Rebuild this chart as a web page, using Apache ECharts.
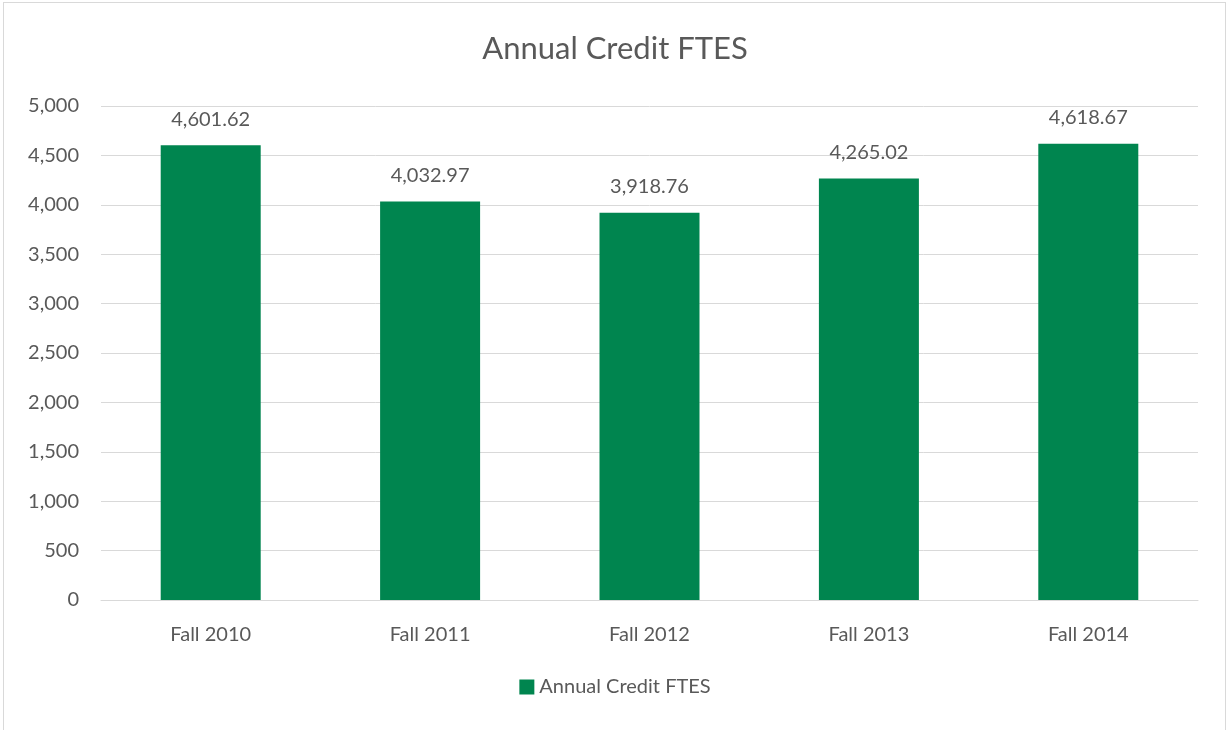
<!DOCTYPE html>
<html>
<head>
<meta charset="utf-8">
<script src="https://cdn.jsdelivr.net/npm/echarts@6/dist/echarts.min.js"></script>
<style>
  html, body { margin: 0; padding: 0; background: #fff; }
  #frame { position: absolute; left: 3px; top: 2px; width: 1223px; height: 730px; border: 1px solid #d9d9d9; border-bottom: none; box-sizing: border-box; }
  #chart { position: absolute; left: 0; top: 0; width: 1230px; height: 730px; }
</style>
</head>
<body>
<div id="chart"></div>
<div id="frame"></div>
<script>
// data
var categories = ['Fall 2010', 'Fall 2011', 'Fall 2012', 'Fall 2013', 'Fall 2014'];
var ftesValues = [4601.62, 4032.97, 3918.76, 4265.02, 4618.67];
var seriesName = 'Annual Credit FTES';

var textColor = '#595959';
var fontFam = 'Lato, "Open Sans", sans-serif';

var fmt = function (v, dec) {
  return v.toLocaleString('en-US', { minimumFractionDigits: dec, maximumFractionDigits: dec });
};

var chart = echarts.init(document.getElementById('chart'));
chart.setOption({
  animation: false,
  title: {
    text: 'Annual Credit FTES',
    left: 'center',
    top: 28,
    textStyle: { color: textColor, fontSize: 31, fontWeight: 'normal', fontFamily: fontFam }
  },
  legend: {
    bottom: 28,
    left: 'center',
    itemWidth: 15,
    itemHeight: 15,
    itemGap: 4,
    icon: 'rect',
    textStyle: { color: textColor, fontSize: 20, fontFamily: fontFam },
    data: [seriesName]
  },
  grid: { left: 101, right: 32, top: 106, bottom: 130 },
  xAxis: {
    type: 'category',
    data: categories,
    axisTick: { show: false },
    axisLine: { lineStyle: { color: '#d9d9d9' } },
    axisLabel: { color: textColor, fontSize: 20, fontFamily: fontFam, margin: 25 }
  },
  yAxis: {
    type: 'value',
    min: 0,
    max: 5000,
    interval: 500,
    axisLine: { show: false },
    axisTick: { show: false },
    splitLine: { lineStyle: { color: '#d9d9d9' } },
    axisLabel: {
      color: textColor, fontSize: 20, fontFamily: fontFam, margin: 22,
      formatter: function (v) { return fmt(v, 0); }
    }
  },
  series: [{
    name: seriesName,
    type: 'bar',
    data: ftesValues,
    barWidth: 100,
    itemStyle: { color: '#00854f' },
    label: {
      show: true,
      position: 'top',
      distance: 16,
      color: textColor,
      fontSize: 20,
      fontFamily: fontFam,
      formatter: function (p) { return fmt(p.value, 2); }
    }
  }]
});
</script>
</body>
</html>
